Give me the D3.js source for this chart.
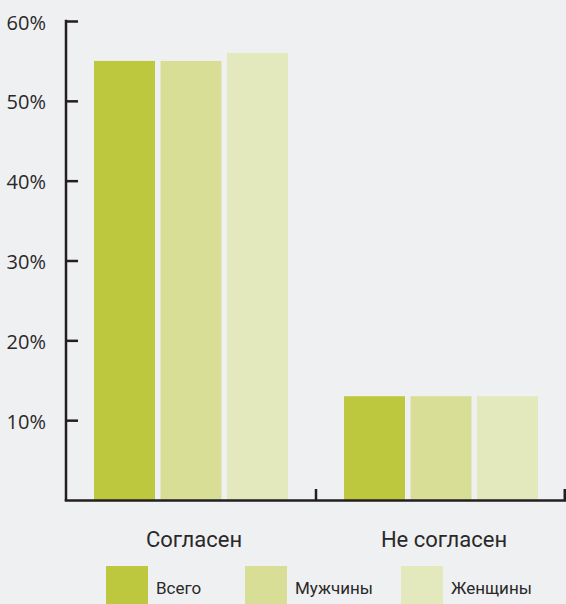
<!DOCTYPE html>
<html><head><meta charset="utf-8">
<script src="https://cdn.jsdelivr.net/npm/d3@7"></script>
<style>
html,body{margin:0;padding:0;background:#eff0f2;}
svg{display:block;}
</style></head>
<body>
<script>
const categories = ["Согласен", "Не согласен"];
const seriesNames = ["Всего", "Мужчины", "Женщины"];
const seriesValues = {
  "Всего":   [55, 13],
  "Мужчины": [55, 13],
  "Женщины": [56, 13]
};
const yTicks = [10, 20, 30, 40, 50, 60];
const colors = ["#bec83e", "#d8de95", "#e3e9bd"];

const W = 566, H = 604;
const svg = d3.select("body").append("svg").attr("width", W).attr("height", H);
svg.append("rect").attr("width", W).attr("height", H).attr("fill", "#eff0f2");

const axisColor = "#231f20";
const y = d3.scaleLinear().domain([0, 60]).range([500, 21]);
const x0 = d3.scaleBand().domain(categories).range([66, 566]).padding(0);
const x1 = d3.scaleBand().domain(seriesNames).range([28, 222]).paddingInner(0.0827).paddingOuter(0);
const color = d3.scaleOrdinal().domain(seriesNames).range(colors);

// bars
const groups = svg.append("g").selectAll("g").data(categories).join("g")
  .attr("transform", d => `translate(${x0(d)},0)`);
groups.selectAll("rect")
  .data((c, i) => seriesNames.map(s => ({s, v: seriesValues[s][i]})))
  .join("rect")
  .attr("x", d => x1(d.s))
  .attr("width", x1.bandwidth())
  .attr("y", d => y(d.v))
  .attr("height", d => y(0) - y(d.v))
  .attr("fill", d => color(d.s));

// y axis
const yAxis = svg.append("g").attr("transform", "translate(66,0)")
  .call(d3.axisLeft(y).tickValues(yTicks).tickFormat(d => d + "%")
    .tickSizeInner(-12).tickSizeOuter(0).tickPadding(20));
yAxis.select(".domain").attr("stroke", axisColor).attr("stroke-width", 2.5);
yAxis.selectAll(".tick line").attr("stroke", axisColor).attr("stroke-width", 2.5);
yAxis.selectAll(".tick text").attr("fill", "#2a2829")
  .attr("font-family", "'Open Sans', sans-serif").attr("font-size", 20).attr("dy", "0.4em");
yAxis.select(".domain").attr("d", `M0,${y(0)+1}V${y(60)-1.2}`);

// x axis
svg.append("line").attr("x1", 64.75).attr("x2", W).attr("y1", 500.5).attr("y2", 500.5)
  .attr("stroke", axisColor).attr("stroke-width", 2.5);
svg.append("g").selectAll("line").data(categories).join("line")
  .attr("x1", d => Math.min(x0(d) + x0.bandwidth(), W - 1.25))
  .attr("x2", d => Math.min(x0(d) + x0.bandwidth(), W - 1.25))
  .attr("y1", 500).attr("y2", 489)
  .attr("stroke", axisColor).attr("stroke-width", 2.5);

// category labels
svg.append("g").selectAll("text").data(categories).join("text")
  .attr("x", d => x0(d) + x0.bandwidth() / 2 + 3)
  .attr("y", 547)
  .attr("text-anchor", "middle")
  .attr("font-family", "Roboto, sans-serif").attr("font-size", 22)
  .attr("fill", "#2a2829")
  .text(d => d);

// legend
const legendX = [106, 245, 401];
const lg = svg.append("g").selectAll("g").data(seriesNames).join("g")
  .attr("transform", (d, i) => `translate(${legendX[i]},566)`);
lg.append("rect").attr("width", 42).attr("height", 42).attr("fill", d => color(d));
lg.append("text").attr("x", 50).attr("y", 28)
  .attr("font-family", "Roboto, sans-serif").attr("font-size", 17)
  .attr("fill", "#2a2829").text(d => d);
</script>
</body></html>
